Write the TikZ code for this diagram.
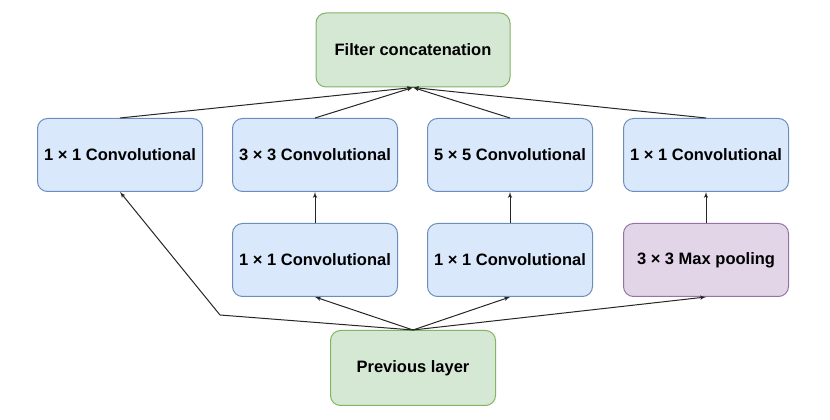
\documentclass[tikz,border=0pt]{standalone}
\usepackage{fontspec}
\setmainfont{Liberation Sans}
\usetikzlibrary{arrows,calc,positioning,shapes}

\definecolor{greenfill}{HTML}{D5E8D4}
\definecolor{greenline}{HTML}{82B366}
\definecolor{bluefill}{HTML}{DAE8FC}
\definecolor{blueline}{HTML}{6C8EBF}
\definecolor{purplefill}{HTML}{E1D5E7}
\definecolor{purpleline}{HTML}{9673A6}

\begin{document}
\begin{tikzpicture}[x=1pt,y=1pt,>=latex',node distance=29pt]
	\tikzstyle{block} = [draw, rectangle, rounded corners=10pt, line width=1pt, inner sep=0pt, minimum width=165pt, minimum height=73pt, font=\fontsize{16.5}{20}\selectfont\bfseries]
	\tikzstyle{conv} = [block, fill=bluefill, draw=blueline]
	\tikzstyle{pool} = [block, fill=purplefill, draw=purpleline]
	\tikzstyle{layer} = [block, fill=greenfill, draw=greenline]
	\tikzstyle{link} = [draw=black!85, line width=1pt]
	\useasboundingbox (0,0) rectangle (830,420);

	% output and input
	\node [layer, minimum width=194pt, minimum height=74pt] (concat) at (413,370) {Filter concatenation};
	\node [layer, minimum height=75pt] (prev) at (413,52) {Previous layer};

	% upper row
	\node [conv] (conva) at (120,265) {1 × 1 Convolutional};
	\node [conv, right = of conva] (convb) {3 × 3 Convolutional};
	\node [conv, right = of convb] (convc) {5 × 5 Convolutional};
	\node [conv, right = 30pt of convc] (convd) {1 × 1 Convolutional};

	% lower row
	\node [conv, below = 31pt of convb] (rede) {1 × 1 Convolutional};
	\node [conv, below = 31pt of convc] (redf) {1 × 1 Convolutional};
	\node [pool, below = 31pt of convd] (maxpool) {3 × 3 Max pooling};

	\coordinate (bend) at (220,105);

	\foreach \n in {conva,convb,convc,convd}
		\draw [->, link] (\n.north) -- (concat.south);

	\draw [->, link] (rede) -- (convb);
	\draw [->, link] (redf) -- (convc);
	\draw [->, link] (maxpool) -- (convd);

	\draw [->, link] (prev.north) -- (bend) -- (conva.south);
	\draw [->, link] (prev.north) -- (rede.south);
	\draw [->, link] (prev.north) -- (redf.south);
	\draw [->, link] (prev.north) -- (maxpool.south);
\end{tikzpicture}
\end{document}
